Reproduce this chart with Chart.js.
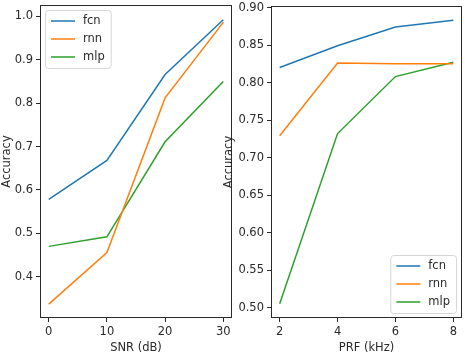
<!DOCTYPE html>
<html>
<head>
<meta charset="utf-8">
<script src="https://cdn.jsdelivr.net/npm/chart.js@4"></script>
<style>
  html, body { margin: 0; padding: 0; background: #fff; }
  #wrap { position: relative; width: 465px; height: 358px; }
  #snrBox { position: absolute; left: 0; top: 0; width: 236px; height: 358px; }
  #prfBox { position: absolute; left: 222px; top: 0; width: 243px; height: 358px; }
</style>
</head>
<body>
<div id="wrap">
  <div id="snrBox"><canvas id="snrChart"></canvas></div>
  <div id="prfBox"><canvas id="prfChart"></canvas></div>
</div>
<script>
const seriesNames = ['fcn', 'rnn', 'mlp'];
const colors = ['#1f77b4', '#ff7f0e', '#2ca02c'];

// left panel: accuracy vs SNR
const snr = [0, 10, 20, 30];
const fcnSnr = [0.578, 0.668, 0.866, 0.992];
const rnnSnr = [0.337, 0.456, 0.812, 0.986];
const mlpSnr = [0.470, 0.492, 0.711, 0.850];
const snrTicks = [0, 10, 20, 30];
const accTicksL = [0.4, 0.5, 0.6, 0.7, 0.8, 0.9, 1.0];

// right panel: accuracy vs PRF
const prf = [2, 4, 6, 8];
const fcnPrf = [0.820, 0.849, 0.874, 0.883];
const rnnPrf = [0.729, 0.826, 0.825, 0.825];
const mlpPrf = [0.505, 0.732, 0.808, 0.827];
const prfTicks = [2, 4, 6, 8];
const accTicksR = [0.50, 0.55, 0.60, 0.65, 0.70, 0.75, 0.80, 0.85, 0.90];

const FONT = 'DejaVu Sans';
const INK = '#2a2a2a';
Chart.defaults.font.family = FONT;
Chart.defaults.font.size = 11.5;
Chart.defaults.color = INK;

// frame round the plot area, like matplotlib spines
const frame = {
  id: 'frame',
  afterDatasetsDraw(chart) {
    const a = chart.chartArea, c = chart.ctx;
    c.save();
    c.strokeStyle = INK;
    c.lineWidth = 1;
    c.strokeRect(Math.round(a.left) + 0.5, Math.round(a.top) + 0.5,
      Math.round(a.right - a.left) - 1, Math.round(a.bottom - a.top) - 1);
    c.restore();
  }
};

// legend drawn inside the axes
const innerLegend = {
  id: 'innerLegend',
  afterDraw(chart, args, opts) {
    const c = chart.ctx, a = chart.chartArea;
    c.save();
    c.font = '11.5px "' + FONT + '"';
    const labels = chart.data.datasets.map(d => d.label);
    const tw = Math.max(...labels.map(t => c.measureText(t).width));
    const w = 6 + 24 + 8 + tw + 6, h = 58;
    const x = opts.corner === 'ul' ? a.left + 5 : a.right - 6 - w;
    const y = opts.corner === 'ul' ? a.top + 5 : a.bottom - 5 - h;
    c.beginPath();
    c.roundRect(x + 0.5, y + 0.5, w, h, 3);
    c.fillStyle = 'rgba(255,255,255,0.8)';
    c.fill();
    c.strokeStyle = '#d6d6d6';
    c.lineWidth = 1;
    c.stroke();
    chart.data.datasets.forEach((d, i) => {
      const ry = y + 11 + i * 18;
      c.strokeStyle = d.borderColor;
      c.lineWidth = 1.5;
      c.beginPath();
      c.moveTo(x + 6, ry);
      c.lineTo(x + 30, ry);
      c.stroke();
      c.fillStyle = INK;
      c.textBaseline = 'middle';
      c.fillText(d.label, x + 38, ry);
    });
    c.restore();
  }
};

function makeSets(xs, ys) {
  return ys.map((vals, i) => ({
    label: seriesNames[i],
    data: xs.map((x, j) => ({ x: x, y: vals[j] })),
    borderColor: colors[i],
    backgroundColor: colors[i],
    borderWidth: 1.5,
    pointRadius: 0,
    tension: 0
  }));
}

function axisX(title, min, max, ticks, h) {
  return {
    type: 'linear', min: min, max: max,
    grid: { drawOnChartArea: false, drawTicks: true, tickLength: 4, tickColor: INK },
    border: { display: false },
    ticks: { padding: 3, maxRotation: 0, color: INK },
    afterBuildTicks: s => { s.ticks = ticks.map(v => ({ value: v })); },
    afterFit: s => { s.height = h; s.paddingLeft = 0; s.paddingRight = 0; },
    title: { display: true, text: title, color: INK, padding: { top: 0, bottom: 3 } }
  };
}

function axisY(min, max, ticks, digits, w) {
  return {
    min: min, max: max,
    grid: { drawOnChartArea: false, drawTicks: true, tickLength: 4, tickColor: INK },
    border: { display: false },
    ticks: { padding: 3, color: INK, callback: v => Number(v).toFixed(digits) },
    afterBuildTicks: s => { s.ticks = ticks.map(v => ({ value: v })); },
    afterFit: s => { s.width = w; s.paddingTop = 0; s.paddingBottom = 0; },
    title: { display: true, text: 'Accuracy', color: INK, padding: 0 }
  };
}

function baseOptions(pad, scales, corner) {
  return {
    responsive: true,
    maintainAspectRatio: false,
    animation: false,
    layout: { padding: pad },
    plugins: { legend: { display: false }, tooltip: { enabled: false }, innerLegend: { corner: corner } },
    scales: scales
  };
}

new Chart(document.getElementById('snrChart'), {
  type: 'line',
  data: { datasets: makeSets(snr, [fcnSnr, rnnSnr, mlpSnr]) },
  options: baseOptions({ top: 5, right: 4, left: 0, bottom: 0 }, {
    x: axisX('SNR (dB)', -1.5, 31.5, snrTicks, 40),
    y: axisY(0.305, 1.026, accTicksL, 1, 40)
  }, 'ul'),
  plugins: [frame, innerLegend]
});

new Chart(document.getElementById('prfChart'), {
  type: 'line',
  data: { datasets: makeSets(prf, [fcnPrf, rnnPrf, mlpPrf]) },
  options: baseOptions({ top: 6, right: 3, left: 0, bottom: 0 }, {
    x: axisX('PRF (kHz)', 1.7, 8.3, prfTicks, 40),
    y: axisY(0.4861, 0.9021, accTicksR, 2, 49)
  }, 'lr'),
  plugins: [frame, innerLegend]
});
</script>
</body>
</html>
